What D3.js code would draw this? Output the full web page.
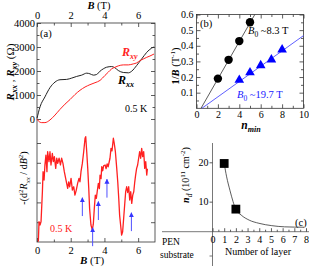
<!DOCTYPE html>
<html>
<head>
<meta charset="utf-8">
<script src="https://cdn.jsdelivr.net/npm/d3@7"></script>
<style>
  body { margin: 0; background: #fff; }
  svg { display: block; font-family: "Liberation Serif", "DejaVu Serif", serif; }
</style>
</head>
<body>
<svg id="fig" width="309" height="268"></svg>
<script>
// ---- panel (a) data : B (T), resistance (Ohm)
const rxx = [[0,30],[0.18,507],[0.47,920],[0.77,1306],[1.07,1540],[1.36,1636],[1.76,1650],
  [2.06,1705],[2.35,1773],[2.65,1828],[2.95,1910],[3.14,1883],[3.34,1828],[3.54,1856],
  [3.74,1993],[3.93,2089],[4.13,2158],[4.43,2186],[4.63,2130],[4.82,2021],[5.12,1938],
  [5.42,1924],[5.62,1993],[5.91,2227],[6.21,2502],[6.51,2777],[6.80,2955],[6.95,3000]];
const rxy = [[0,0],[0.08,-82],[0.28,-151],[0.47,-151],[0.77,-41],[1.07,165],[1.36,399],
  [1.66,619],[1.96,811],[2.25,1018],[2.55,1196],[2.85,1333],[3.14,1430],[3.44,1512],
  [3.74,1608],[4.03,1814],[4.23,1952],[4.43,2089],[4.63,2158],[4.82,2213],[5.12,2254],
  [5.42,2254],[5.71,2296],[5.91,2337],[6.11,2433],[6.31,2502],[6.51,2570],[6.70,2625],[6.94,2707]];
// -(d2Rxx/dB2), arbitrary units
const d2rxx = [[0.08,0.02],[0.12,1.03],[0.18,0.86],[0.24,1.03],[0.32,2.54],[0.36,3.55],[0.42,3.13],
  [0.47,3.89],[0.53,4.39],[0.59,3.55],[0.63,4.56],[0.71,4.06],[0.77,4.56],[0.83,3.89],[0.91,4.48],
  [0.97,4.06],[1.03,4.31],[1.11,3.72],[1.17,4.23],[1.23,3.97],[1.31,4.23],[1.39,3.89],[1.46,4.23],
  [1.54,3.97],[1.62,3.55],[1.70,3.21],[1.76,2.96],[1.82,2.71],[1.88,3.04],[1.94,2.79],[2.02,3.21],
  [2.10,2.62],[2.18,2.79],[2.25,2.37],[2.33,2.62],[2.41,2.96],[2.49,3.21],[2.55,3.04],[2.61,3.55],
  [2.69,3.97],[2.77,4.56],[2.85,5.24],[2.89,5.32],[2.95,4.56],[3.01,3.72],[3.07,2.71],[3.12,1.70],
  [3.20,0.86],[3.28,0.61],[3.34,0.9],[3.40,1.7],[3.46,2.37],[3.52,2.2],[3.58,2.6],[3.64,2.96],
  [3.70,2.7],[3.74,3.38],[3.80,3.2],[3.84,3.80],[3.90,3.6],[3.95,3.85],[4.04,3.89],[4.10,3.7],
  [4.16,3.95],[4.22,3.8],[4.33,4.23],[4.39,4.73],[4.45,4.6],[4.53,5.24],[4.58,5.0],[4.65,4.56],
  [4.73,3.72],[4.79,3.04],[4.85,2.20],[4.90,1.36],[4.96,0.86],[5.02,0.35],[5.08,0.52],[5.14,1.19],
  [5.20,1.87],[5.26,2.54],[5.32,2.79],[5.38,2.5],[5.44,2.79],[5.50,2.12],[5.56,2.54],[5.62,1.95],
  [5.68,2.37],[5.74,2.54],[5.80,3.04],[5.85,3.38],[5.91,3.72],[5.97,3.89],[6.03,4.23],[6.09,4.56],
  [6.15,4.23],[6.21,4.73],[6.27,4.31],[6.33,4.56],[6.39,3.72],[6.45,4.06],[6.51,3.38],[6.55,3.7]];
const arrowB = [2.69, 3.30, 3.64, 4.15, 5.60];
const arrowTip = [2.24, 0.72, 2.04, 3.17, 1.48];
const bTicks = [0, 2, 4, 6];
const rTicks = [0, 1000, 2000, 3000, 4000];

// ---- panel (b) data : n_min vs 1/B
const nCirc = [2, 3, 4, 5];
const invBCirc = [0.19, 0.31, 0.43, 0.55];
const nTri = [4, 5, 6, 7, 8];
const invBTri = [0.175, 0.222, 0.268, 0.305, 0.369];
const fitBlack = [[0.42, 0], [5.45, 0.6]];
const fitBlue = [[0.5, 0], [10, 0.465]];
const nTicks = [0, 2, 4, 6, 8, 10];
const invTicks = [0.1, 0.2, 0.3, 0.4, 0.5, 0.6];

// ---- panel (c) data : n_d vs number of layers
const layers = [1, 2];
const nd = [19.7, 8.1];
const ndCurve = [[0.99,19.9],[1.21,16.3],[1.49,12.9],[1.76,10.0],[1.98,8.1],[2.45,6.6],
  [3.14,5.3],[3.97,4.5],[5.07,3.9],[6.17,3.6],[7.83,3.5]];
const layerTicks = [0, 1, 2, 3, 4, 5, 6, 7, 8];
const ndTicks = [10, 20];

const svg = d3.select("#fig");
const FONT = "Liberation Serif, DejaVu Serif, serif";

function axis(gen, x, y, fs) {
  const g = svg.append("g").attr("transform", `translate(${x},${y})`).call(gen);
  g.select(".domain").remove();
  g.attr("font-family", FONT).attr("font-size", fs || 10);
  g.selectAll("line").attr("stroke", "#333").attr("stroke-width", 0.8);
  return g;
}

// parts: {t, i, b, o (baseline offset px), fs}
function rich(x, y, parts, opt) {
  opt = opt || {};
  const t = svg.append("text")
    .attr("x", x).attr("y", y)
    .attr("font-size", opt.fs || 10)
    .attr("fill", opt.fill || "#000")
    .attr("text-anchor", opt.anchor || "start");
  if (opt.rot) t.attr("transform", `rotate(-90,${x},${y})`);
  let shift = 0;
  parts.forEach(p => {
    const o = p.o || 0;
    const s = t.append("tspan").text(p.t).attr("dy", o - shift);
    shift = o;
    if (p.i) s.attr("font-style", "italic");
    if (p.b) s.attr("font-weight", "bold");
    if (p.fs) s.attr("font-size", p.fs);
  });
  return t;
}

// ================= panel (a)
const xA = d3.scaleLinear().domain([0, 7]).range([37, 155]);
const yA = d3.scaleLinear().domain([0, 4000]).range([119, 23]);
const yD = d3.scaleLinear().domain([0, 5]).range([242, 143]);

svg.append("rect").attr("x", xA(0)).attr("y", 23).attr("width", xA(7) - xA(0)).attr("height", 242 - 23)
  .attr("fill", "none").attr("stroke", "#333").attr("stroke-width", 0.8);

axis(d3.axisTop(xA).tickValues(bTicks).tickSize(-4).tickPadding(4).tickFormat(d3.format("d")), 0, 23, 10.5);
axis(d3.axisTop(xA).tickValues([1, 3, 5]).tickSize(-2.5).tickFormat(""), 0, 23);
axis(d3.axisBottom(xA).tickValues(bTicks).tickSize(-4).tickPadding(5).tickFormat(d3.format("d")), 0, 242, 10.5);
axis(d3.axisBottom(xA).tickValues([1, 3, 5]).tickSize(-2.5).tickFormat(""), 0, 242);
axis(d3.axisLeft(yA).tickValues(rTicks).tickSize(-4).tickPadding(2).tickFormat(d3.format("d")), xA(0), 0, 10.5);
axis(d3.axisLeft(yA).tickValues([500, 1500, 2500, 3500]).tickSize(-2.5).tickFormat(""), xA(0), 0);
axis(d3.axisRight(yA).tickValues(rTicks).tickSize(-4).tickFormat(""), xA(7), 0);
axis(d3.axisRight(yA).tickValues([500, 1500, 2500, 3500]).tickSize(-2.5).tickFormat(""), xA(7), 0);
axis(d3.axisLeft(yD).tickValues([1, 2, 3, 4, 5]).tickSize(-4).tickFormat(""), xA(0), 0);
axis(d3.axisRight(yD).tickValues([1, 2, 3, 4, 5]).tickSize(-4).tickFormat(""), xA(7), 0);

const lineA = d3.line().x(d => xA(d[0])).y(d => yA(d[1])).curve(d3.curveMonotoneX);
svg.append("path").datum(rxx).attr("d", lineA).attr("fill", "none").attr("stroke", "#222").attr("stroke-width", 1);
svg.append("path").datum(rxy).attr("d", lineA).attr("fill", "none").attr("stroke", "#ff1f1f").attr("stroke-width", 1);

const lineD = d3.line().x(d => xA(d[0])).y(d => yD(d[1]));
svg.append("path").datum(d2rxx).attr("d", lineD).attr("fill", "none").attr("stroke", "#ff2020")
  .attr("stroke-width", 1.3).attr("stroke-linejoin", "round");

svg.append("defs").append("marker").attr("id", "ah").attr("viewBox", "0 0 10 10")
  .attr("refX", 9).attr("refY", 5).attr("markerWidth", 5).attr("markerHeight", 6)
  .attr("markerUnits", "userSpaceOnUse").attr("orient", "auto")
  .append("path").attr("d", "M0,0L10,5L0,10z").attr("fill", "#3535ff");

svg.selectAll(".arr").data(arrowB).join("line").attr("class", "arr")
  .attr("x1", d => xA(d)).attr("x2", d => xA(d))
  .attr("y1", (d, i) => yD(arrowTip[i] - 0.93)).attr("y2", (d, i) => yD(arrowTip[i]))
  .attr("stroke", "#5050ff").attr("stroke-width", 1).attr("marker-end", "url(#ah)");

rich(40, 37, [{t: "(a)"}], {fs: 10.5});
rich(122, 56, [{t: "R", i: 1, b: 1}, {t: "xy", i: 1, b: 1, o: 2.5, fs: 8}], {fs: 12, fill: "#ff1f1f"});
rich(118, 84, [{t: "R", i: 1, b: 1}, {t: "xx", i: 1, b: 1, o: 2.5, fs: 8}], {fs: 12});
rich(125, 112, [{t: "0.5 K"}], {fs: 10});
rich(50, 232, [{t: "0.5 K"}], {fs: 10, fill: "#ff2020"});
rich(99, 9, [{t: "B", i: 1, b: 1}, {t: " (T)"}], {fs: 10.5, anchor: "middle"});
rich(92, 264, [{t: "B", i: 1, b: 1}, {t: " (T)"}], {fs: 11, anchor: "middle"});
rich(14, 72, [{t: "R", i: 1, b: 1}, {t: "xx", i: 1, b: 1, o: 2.5, fs: 8}, {t: " , "},
  {t: "R", i: 1, b: 1}, {t: "xy", i: 1, b: 1, o: 2.5, fs: 8}, {t: " (Ω)"}], {fs: 11, anchor: "middle", rot: 1});
rich(27, 178, [{t: "-(d"}, {t: "2", o: -4, fs: 7}, {t: "R", i: 1}, {t: "xx", i: 1, o: 2.5, fs: 7},
  {t: " / d"}, {t: "B", i: 1}, {t: "2", o: -4, fs: 7}, {t: ")"}], {fs: 10, anchor: "middle", rot: 1});

// ================= panel (b)
const xB = d3.scaleLinear().domain([0, 10]).range([196.5, 303.5]);
const yB = d3.scaleLinear().domain([0, 0.6]).range([108.3, 14.5]);

svg.append("rect").attr("x", xB(0)).attr("y", yB(0.6)).attr("width", xB(10) - xB(0)).attr("height", yB(0) - yB(0.6))
  .attr("fill", "none").attr("stroke", "#333").attr("stroke-width", 0.8);

const oddN = [1, 3, 5, 7, 9];
const halfTicks = [0.05, 0.15, 0.25, 0.35, 0.45, 0.55];
axis(d3.axisBottom(xB).tickValues(nTicks).tickSize(-4).tickPadding(3).tickFormat(d3.format("d")), 0, yB(0), 10);
axis(d3.axisBottom(xB).tickValues(oddN).tickSize(-2.5).tickFormat(""), 0, yB(0));
axis(d3.axisTop(xB).tickValues(nTicks).tickSize(-4).tickFormat(""), 0, yB(0.6));
axis(d3.axisTop(xB).tickValues(oddN).tickSize(-2.5).tickFormat(""), 0, yB(0.6));
axis(d3.axisLeft(yB).tickValues(invTicks).tickSize(-4).tickPadding(3).tickFormat(d3.format(".1f")), xB(0), 0, 10);
axis(d3.axisLeft(yB).tickValues(halfTicks).tickSize(-2.5).tickFormat(""), xB(0), 0);
axis(d3.axisRight(yB).tickValues(invTicks).tickSize(-4).tickFormat(""), xB(10), 0);
axis(d3.axisRight(yB).tickValues(halfTicks).tickSize(-2.5).tickFormat(""), xB(10), 0);

const lineB = d3.line().x(d => xB(d[0])).y(d => yB(d[1]));
svg.append("path").datum(fitBlack).attr("d", lineB).attr("stroke", "#333").attr("stroke-width", 0.8);
svg.append("path").datum(fitBlue).attr("d", lineB).attr("stroke", "#4d4dff").attr("stroke-width", 0.9);

svg.selectAll(".circ").data(nCirc).join("circle").attr("class", "circ")
  .attr("cx", d => xB(d)).attr("cy", (d, i) => yB(invBCirc[i])).attr("r", 4.2).attr("fill", "#000");
svg.selectAll(".tri").data(nTri).join("path").attr("class", "tri")
  .attr("d", d3.symbol(d3.symbolTriangle).size(40))
  .attr("transform", (d, i) => `translate(${xB(d)},${yB(invBTri[i]) - 1})`).attr("fill", "#0000ff");

rich(200, 27, [{t: "(b)"}], {fs: 10.5});
rich(248, 34, [{t: "B", i: 1}, {t: "0", o: 2.5, fs: 7.5}, {t: " ~8.3 T"}], {fs: 10.5});
rich(237, 98, [{t: "B", i: 1}, {t: "0", o: 2.5, fs: 7.5}, {t: " ~19.7 T"}], {fs: 10.5, fill: "#2020ff"});
rich(251, 129, [{t: "n", i: 1, b: 1}, {t: "min", i: 1, b: 1, o: 2.5, fs: 8}], {fs: 11.5, anchor: "middle"});
rich(179, 66, [{t: "1/", b: 1}, {t: "B", i: 1, b: 1}, {t: " (T"}, {t: "-1", o: -4, fs: 7}, {t: ")"}],
  {fs: 10.5, anchor: "middle", rot: 1});

// ================= panel (c)
const xC = d3.scaleLinear().domain([0, 8]).range([212.5, 306]);
const yC = d3.scaleLinear().domain([0, 20]).range([241, 162.3]);
const baseY = 231.7;

svg.append("line").attr("x1", 162).attr("x2", 309).attr("y1", baseY).attr("y2", baseY)
  .attr("stroke", "#555").attr("stroke-width", 0.8);
svg.append("line").attr("x1", xC(0)).attr("x2", xC(0)).attr("y1", 143).attr("y2", 266)
  .attr("stroke", "#555").attr("stroke-width", 0.8);

axis(d3.axisBottom(xC).tickValues(layerTicks).tickSize(-3.5).tickPadding(4).tickFormat(d3.format("d")), 0, baseY, 10);
axis(d3.axisBottom(xC).tickValues([0.5, 1.5, 2.5, 3.5, 4.5, 5.5, 6.5, 7.5]).tickSize(-2).tickFormat(""), 0, baseY);
axis(d3.axisLeft(yC).tickValues(ndTicks).tickSize(3).tickPadding(1).tickFormat(d3.format("d")), xC(0), 0, 10);
svg.append("line").attr("x1", xC(0) - 3).attr("x2", xC(0)).attr("y1", 256).attr("y2", 256)
  .attr("stroke", "#555").attr("stroke-width", 0.8);

const lineC = d3.line().x(d => xC(d[0])).y(d => yC(d[1])).curve(d3.curveMonotoneX);
svg.append("path").datum(ndCurve).attr("d", lineC).attr("fill", "none").attr("stroke", "#333").attr("stroke-width", 0.8);
svg.selectAll(".sq").data(layers).join("rect").attr("class", "sq")
  .attr("x", d => xC(d) - 4.4).attr("y", (d, i) => yC(nd[i]) - 4.4)
  .attr("width", 8.8).attr("height", 8.8).attr("fill", "#000");

rich(295, 226, [{t: "(c)"}], {fs: 10.5});
rich(162, 245, [{t: "PEN"}], {fs: 9.5});
rich(160, 258, [{t: "substrate"}], {fs: 9.5});
rich(258, 255, [{t: "Number of layer"}], {fs: 10, anchor: "middle"});
rich(189, 175, [{t: "n", i: 1, b: 1}, {t: "d", i: 1, o: 2.5, fs: 7.5}, {t: " (10"}, {t: "11", o: -4, fs: 7},
  {t: " cm"}, {t: "-2", o: -4, fs: 7}, {t: ")"}], {fs: 10, anchor: "middle", rot: 1});
</script>
</body>
</html>
